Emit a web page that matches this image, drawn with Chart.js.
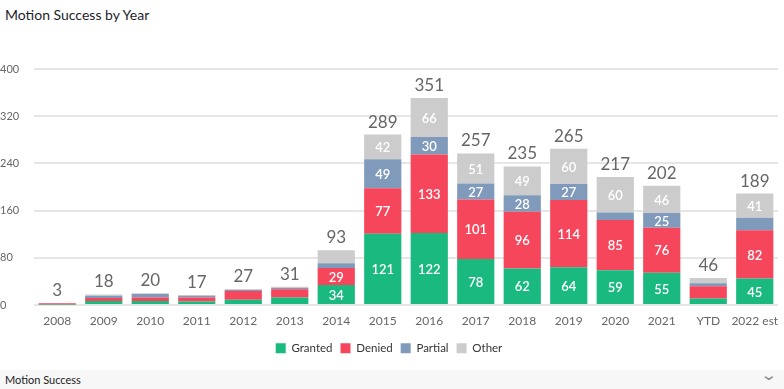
<!DOCTYPE html>
<html>
<head>
<meta charset="utf-8">
<script src="https://cdn.jsdelivr.net/npm/chart.js@4/dist/chart.umd.min.js"></script>
<style>
    body { margin: 0; width: 784px; height: 389px; background: #fff; font-family: Lato, sans-serif; overflow: hidden; position: relative; }
    .titulo { position: absolute; left: 5px; top: 6px; font-size: 14px; color: #1d1d2b; }
    .chart-box { position: absolute; left: 0; top: 48px; width: 784px; height: 316px; }
    .rodape { position: absolute; left: 0; top: 370px; width: 784px; height: 19px; background: #f7f7f7; }
    .rodape span { position: absolute; left: 5px; top: 3px; font-size: 11px; color: #222; }
    .rodape i { position: absolute; right: 8px; top: -5px; font-style: normal; font-size: 15px; color: #888; transform: scaleX(1.4); }
</style>
</head>
<body>
<div class="titulo">Motion Success by Year</div>
<div class="chart-box"><canvas id="grafico"></canvas></div>
<div class="rodape"><span>Motion Success</span><i>&#8964;</i></div>

<script>
const anos = ['2008', '2009', '2010', '2011', '2012', '2013', '2014', '2015', '2016', '2017', '2018', '2019', '2020', '2021', 'YTD', '2022 est'];

const granted = [1, 7, 7, 6, 9, 13, 34, 121, 122, 78, 62, 64, 59, 55, 11, 45];
const denied  = [2, 5, 6, 7, 15, 14, 29, 77, 133, 101, 96, 114, 85, 76, 21, 82];
const partial = [0, 4, 6, 3, 2, 2, 8, 49, 30, 27, 28, 27, 13, 25, 5, 21];
const other   = [0, 2, 1, 1, 1, 2, 22, 42, 66, 51, 49, 60, 60, 46, 9, 41];

const yTicks = [0, 80, 160, 240, 320, 400];

// rótulos dentro das barras e total em cima
const rotulos = {
    id: 'rotulos',
    afterDatasetsDraw(chart) {
        const ctx = chart.ctx;
        ctx.save();
        ctx.textAlign = 'center';
        chart.data.datasets.forEach((ds, i) => {
            const meta = chart.getDatasetMeta(i);
            meta.data.forEach((bar, j) => {
                const v = ds.data[j];
                if (v < 24) return;
                ctx.fillStyle = '#fff';
                ctx.font = '600 13px Lato';
                ctx.textBaseline = 'middle';
                ctx.fillText(v, bar.x, (bar.y + bar.base) / 2 + 1);
            });
        });
        const ultimo = chart.getDatasetMeta(chart.data.datasets.length - 1);
        ultimo.data.forEach((bar, j) => {
            const total = granted[j] + denied[j] + partial[j] + other[j];
            ctx.fillStyle = '#666';
            ctx.font = '17px Lato';
            ctx.textBaseline = 'bottom';
            ctx.fillText(total, bar.x, bar.y - 4);
        });
        ctx.restore();
    }
};

const ctx = document.getElementById('grafico');

new Chart(ctx, {
    type: 'bar',
    data: {
        labels: anos,
        datasets: [
            { label: 'Granted', data: granted, backgroundColor: '#19b97f' },
            { label: 'Denied', data: denied, backgroundColor: '#f5465c' },
            { label: 'Partial', data: partial, backgroundColor: '#7f9aba' },
            { label: 'Other', data: other, backgroundColor: '#cccccc' }
        ]
    },
    options: {
        responsive: true,
        maintainAspectRatio: false,
        animation: false,
        barPercentage: 1,
        categoryPercentage: 0.8,
        layout: { padding: { top: 21, right: 6 } },
        scales: {
            x: {
                stacked: true,
                grid: { display: false },
                border: { display: false },
                afterFit: (scale) => { scale.height += 5; },
                ticks: { color: '#666', font: { family: 'Lato', size: 12 }, padding: 1, maxRotation: 0, autoSkip: false }
            },
            y: {
                stacked: true,
                min: 0,
                max: 400,
                afterBuildTicks: (scale) => { scale.ticks = yTicks.map(v => ({ value: v })); },
                afterFit: (scale) => { scale.width = 34; },
                grid: { color: '#e6e6e6', lineWidth: 2, drawTicks: false },
                border: { display: false },
                ticks: { color: '#666', font: { family: 'Lato', size: 11 }, crossAlign: 'far', padding: 4 }
            }
        },
        plugins: {
            legend: {
                position: 'bottom',
                labels: { boxWidth: 10, boxHeight: 10, padding: 8, color: '#333', font: { family: 'Lato', size: 11.5 } }
            },
            tooltip: { enabled: false }
        }
    },
    plugins: [rotulos]
});
</script>
</body>
</html>
